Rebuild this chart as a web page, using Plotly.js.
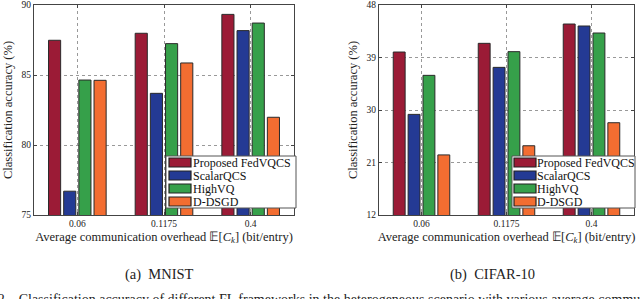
<!DOCTYPE html>
<html><head><meta charset="utf-8">
<script src="https://cdn.plot.ly/plotly-3.0.1.min.js"></script>
<style>html,body{margin:0;padding:0;background:#fff}#chart{width:640px;height:299px}</style>
</head><body><div id="chart"></div>
<script>
const categories = ['0.06', '0.1175', '0.4'];
const seriesNames = ['Proposed FedVQCS', 'ScalarQCS', 'HighVQ', 'D-DSGD'];
const colors = ['#9B1B36', '#243A94', '#36A04A', '#F36D31'];
const mnistProposed = [87.48, 87.98, 89.33];
const mnistScalar = [76.7, 83.69, 88.17];
const mnistHighVQ = [84.64, 87.24, 88.71];
const mnistDDSGD = [84.62, 85.86, 81.98];
const cifarProposed = [39.94, 41.43, 44.74];
const cifarScalar = [29.25, 37.31, 44.4];
const cifarHighVQ = [35.94, 40.0, 43.2];
const cifarDDSGD = [22.3, 23.87, 27.82];
const mnistTicks = [75, 80, 85, 90];
const cifarTicks = [12, 21, 30, 39, 48];

const W = 640, H = 299;
const FONT = 'Liberation Serif, Times New Roman, serif';
const mnist = [mnistProposed, mnistScalar, mnistHighVQ, mnistDDSGD];
const cifar = [cifarProposed, cifarScalar, cifarHighVQ, cifarDDSGD];
const traces = [];
mnist.forEach((v, i) => traces.push({type:'bar', x:categories, y:v, name:seriesNames[i], showlegend:false,
  marker:{color:colors[i], line:{color:'#2a2a2a', width:1}}, xaxis:'x', yaxis:'y'}));
cifar.forEach((v, i) => traces.push({type:'bar', x:categories, y:v, name:seriesNames[i], showlegend:false,
  marker:{color:colors[i], line:{color:'#2a2a2a', width:1}}, xaxis:'x2', yaxis:'y2'}));

const xTitle = 'Average communication overhead 𝔼[<i>C</i><sub><i>k</i></sub>] (bit/entry)';
const yTitle = 'Classification accuracy (%)';
const axBase = {showline:true, linecolor:'#444', linewidth:1, mirror:'ticks', ticks:'inside', ticklen:3,
  tickcolor:'#444', showgrid:true, gridcolor:'#999', griddash:'dot', gridwidth:1, zeroline:false,
  tickfont:{family:FONT, size:9.5, color:'#222'}};
const yDom = [1 - 215/H, 1 - 5/H];

// custom legend boxes (layout decoration)
const shapes = [], annotations = [];
function px(x){return x / W;} function py(y){return 1 - y / H;}
function legendAt(x0, x1, y0, y1, swX0, swX1, txX) {
  shapes.push({type:'rect', xref:'paper', yref:'paper', x0:px(x0), x1:px(x1), y0:py(y1), y1:py(y0),
    fillcolor:'#fff', line:{color:'#555', width:1}, layer:'above'});
  const rowH = (y1 - y0) / seriesNames.length;
  seriesNames.forEach((n, i) => {
    const cy = y0 + rowH * (i + 0.5);
    shapes.push({type:'rect', xref:'paper', yref:'paper', x0:px(swX0), x1:px(swX1), y0:py(cy + 4.5), y1:py(cy - 4.5),
      fillcolor:colors[i], line:{color:'#222', width:1.2}, layer:'above'});
    annotations.push({text:n, xref:'paper', yref:'paper', x:px(txX), y:py(cy), xanchor:'left', yanchor:'middle',
      showarrow:false, font:{family:FONT, size:12, color:'#111'}});
  });
}
legendAt(166, 296, 156, 208, 169, 191, 191);
legendAt(512, 635, 156, 208, 514, 536, 535);

annotations.push(
  {text:'(a)  MNIST', xref:'paper', yref:'paper', x:px(159), y:py(274), showarrow:false,
    font:{family:FONT, size:14.5, color:'#222'}, xanchor:'center', yanchor:'middle'},
  {text:'(b)  CIFAR-10', xref:'paper', yref:'paper', x:px(492), y:py(274), showarrow:false,
    font:{family:FONT, size:14.5, color:'#222'}, xanchor:'center', yanchor:'middle'},
  {text:'Fig. 2.   Classification accuracy of different FL frameworks in the heterogeneous scenario with various average communication overhead.',
    xref:'paper', yref:'paper', x:px(-30), y:py(290), showarrow:false, xanchor:'left', yanchor:'top',
    font:{family:FONT, size:14, color:'#222'}}
);

const layout = {
  width:W, height:H, margin:{l:0, r:0, t:0, b:0}, paper_bgcolor:'#fff', plot_bgcolor:'#fff',
  barmode:'group', bargap:0.3, bargroupgap:0.2, showlegend:false,
  font:{family:FONT, color:'#222'},
  xaxis:Object.assign({}, axBase, {domain:[34/W, 294/W], type:'category', anchor:'y',
    title:{text:xTitle, font:{family:FONT, size:12.5, color:'#222'}, standoff:3}}),
  yaxis:Object.assign({}, axBase, {domain:yDom, range:[75, 90], tickvals:mnistTicks, anchor:'x',
    title:{text:yTitle, font:{family:FONT, size:12.5, color:'#222'}, standoff:6}}),
  xaxis2:Object.assign({}, axBase, {domain:[379/W, 634/W], type:'category', anchor:'y2',
    title:{text:xTitle, font:{family:FONT, size:12.5, color:'#222'}, standoff:3}}),
  yaxis2:Object.assign({}, axBase, {domain:yDom, range:[12, 48], tickvals:cifarTicks, anchor:'x2',
    title:{text:yTitle, font:{family:FONT, size:12.5, color:'#222'}, standoff:6}}),
  shapes:shapes, annotations:annotations
};
Plotly.newPlot('chart', traces, layout, {displayModeBar:false, staticPlot:true});
</script></body></html>
